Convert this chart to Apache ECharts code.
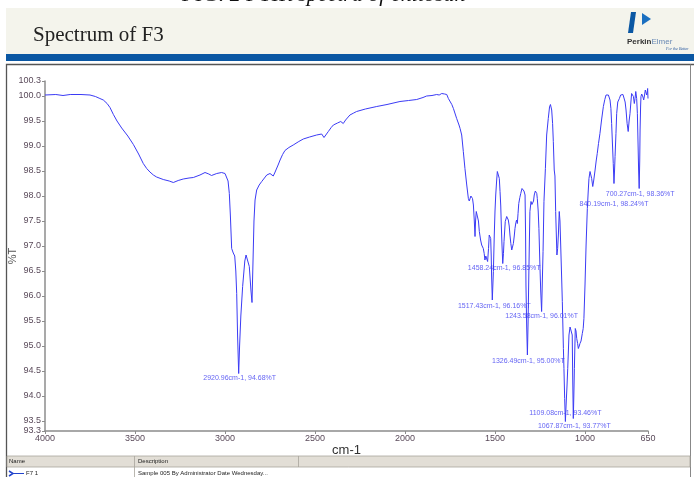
<!DOCTYPE html>
<html>
<head>
<meta charset="utf-8">
<script src="https://cdn.jsdelivr.net/npm/echarts@6/dist/echarts.min.js"></script>
<style>
html,body{margin:0;padding:0;background:#fff;}
#chart{width:694px;height:477px;}
</style>
</head>
<body>
<div id="chart"></div>
<script>
// wavenumber (cm-1) and %T
var wavenumbers = [4000,3940,3900,3860,3800,3750,3720,3695,3676,3655,3639,3620,3600,3574,3540,3509,3480,3454,3435,3417,3398,3380,3343,3310,3287,3260,3232,3200,3176,3139,3111,3090,3075,3065,3046,3019,3000,2991,2983,2976,2970,2963,2954,2946,2940,2935,2930,2924,2919,2912,2902,2890,2883,2874,2865,2856,2850,2845,2839,2833,2824,2810,2796,2768,2750,2741,2732,2724,2717,2705,2694,2680,2667,2645,2621,2590,2565,2530,2491,2463,2456,2450,2440,2426,2410,2398,2375,2357,2350,2343,2330,2306,2285,2269,2220,2157,2100,2028,1980,1935,1900,1880,1850,1824,1810,1796,1780,1768,1759,1754,1740,1731,1722,1713,1700,1694,1685,1676,1667,1657,1648,1643,1639,1634,1630,1625,1620,1615,1611,1608,1604,1598,1592,1587,1580,1574,1565,1560,1556,1551,1546,1541,1536,1532,1528,1524,1521,1519,1515,1512,1509,1504,1500,1496,1491,1487,1480,1476,1472,1468,1465,1461,1457,1453,1450,1443,1435,1426,1421,1417,1412,1407,1402,1398,1393,1389,1384,1380,1376,1372,1368,1362,1357,1350,1346,1339,1333,1330,1328,1324,1320,1316,1313,1309,1306,1300,1295,1291,1286,1282,1276,1272,1268,1265,1260,1256,1250,1246,1241,1237,1233,1228,1220,1213,1204,1197,1192,1189,1185,1180,1176,1171,1167,1163,1156,1152,1148,1143,1139,1135,1130,1126,1120,1117,1113,1109,1104,1100,1096,1089,1083,1078,1074,1071,1068,1065,1062,1059,1054,1050,1046,1041,1037,1032,1028,1022,1015,1010,1006,1000,994,987,982,978,972,967,963,957,952,944,938,932,925,917,908,898,890,883,875,870,865,861,856,852,847,843,839,836,833,828,824,818,809,802,796,789,783,777,772,766,760,755,750,745,741,736,731,726,722,718,713,709,705,702,699,696,694,691,689,685,682,678,674,670,665,661,657,654,652,650];
var transmittance = [100.02,100.03,100.01,100.03,100.03,100.02,99.99,99.95,99.92,99.85,99.77,99.63,99.5,99.36,99.2,99.03,98.84,98.65,98.55,98.48,98.42,98.38,98.33,98.30,98.27,98.31,98.34,98.36,98.37,98.42,98.47,98.44,98.41,98.40,98.45,98.47,98.45,98.42,98.3,98.05,97.6,96.95,96.86,96.80,96.5,96.05,95.2,94.45,95.0,95.6,96.19,96.7,96.82,96.79,96.59,96.12,95.87,96.6,97.5,97.92,98.12,98.22,98.29,98.42,98.45,98.45,98.40,98.46,98.52,98.62,98.72,98.83,98.91,98.97,99.02,99.09,99.14,99.18,99.22,99.24,99.21,99.17,99.22,99.29,99.37,99.42,99.46,99.49,99.48,99.45,99.52,99.62,99.66,99.69,99.74,99.79,99.83,99.89,99.91,99.93,99.97,100.0,100.01,100.03,100.02,100.05,100.04,100.03,99.95,99.93,99.83,99.75,99.72,99.55,99.42,99.35,99.22,98.89,98.55,98.22,97.95,97.9,97.92,98.0,98.02,97.95,97.82,97.5,97.19,97.5,97.69,97.69,97.5,97.29,97.12,97.02,96.95,96.85,96.72,96.8,96.82,96.69,96.95,97.22,97.2,97.15,96.8,96.42,95.92,96.2,96.49,97.22,97.7,98.02,98.3,98.49,98.50,98.35,98.09,97.8,97.42,97.0,96.65,96.85,97.09,97.49,97.59,97.52,97.4,97.22,97.05,96.92,96.95,97.05,97.2,97.35,97.47,97.52,97.45,97.65,97.85,97.97,98.05,98.15,98.19,98.10,98.02,97.2,96.22,95.4,94.82,95.5,96.22,97.1,97.69,97.89,97.83,97.79,97.9,98.02,98.1,98.12,98.05,97.95,97.7,97.35,96.55,96.1,95.69,96.3,96.89,97.89,98.55,99.22,99.55,99.78,99.83,99.83,99.72,99.45,99.09,98.52,98.40,97.69,96.82,96.95,97.22,97.69,97.5,97.02,96.4,95.89,94.95,94.55,93.95,93.49,93.9,94.2,94.55,95.22,95.38,95.42,95.35,95.22,94.3,93.55,94.0,94.55,95.35,95.3,95.15,95.05,94.95,95.0,95.05,95.1,95.25,95.35,95.55,96.22,97.02,97.75,98.1,98.35,98.49,98.45,98.35,98.19,98.3,98.52,98.7,98.85,99.05,99.25,99.52,99.79,99.93,100.02,100.03,100.02,99.98,99.92,99.75,99.45,99.0,98.65,98.25,98.5,98.79,99.25,99.65,99.88,99.95,100.02,100.04,100.03,99.99,99.88,99.72,99.45,99.29,99.5,99.65,99.88,100.05,100.04,99.99,99.85,99.95,100.09,99.95,99.65,99.0,98.5,98.15,98.7,99.32,99.8,99.99,100.04,100.02,99.98,99.92,100.0,100.12,100.1,100.02,100.08,100.15,99.95];

// annotated peaks (position of tip in the drawing, text as printed)
var peakWn = [2924,1457,1515,1241,1320,1109,1065,839,699];
var peakT  = [94.45,96.65,95.92,95.69,94.82,93.49,93.55,98.25,98.15];
var peakText = ['2920.96cm-1, 94.68%T','1458.24cm-1, 96.85%T','1517.43cm-1, 96.16%T','1243.58cm-1, 96.01%T','1326.49cm-1, 95.00%T','1109.08cm-1, 93.46%T','1067.87cm-1, 93.77%T','840.19cm-1, 98.24%T','700.27cm-1, 98.36%T'];
var peakOffsets = [[1,5],[1.5,5],[2,6],[0,4.5],[1,6],[0,-8.5],[1,7.5],[0,21],[1,6]];

var xTicks = [4000,3500,3000,2500,2000,1500,1000,650];
var yTicks = [93.3,93.5,94.0,94.5,95.0,95.5,96.0,96.5,97.0,97.5,98.0,98.5,99.0,99.5,100.0,100.3];

var lineData = wavenumbers.map(function(w,i){return [w, transmittance[i]];});
var peakData = peakWn.map(function(w,i){
  return {value:[w, peakT[i]], label:{offset:peakOffsets[i], formatter:peakText[i]}};
});

var chart = echarts.init(document.getElementById('chart'), null, {renderer:'canvas'});
var axisColor = '#8c8c8c';
var labelColor = '#5a4a5a';
chart.setOption({
  backgroundColor:'#ffffff',
  animation:false,
  grid:{left:45, right:46, top:81, bottom:46, containLabel:false, outerBoundsMode:'none'},
  xAxis:{
    type:'value', min:650, max:4000, inverse:true,
    name:'cm-1', nameLocation:'middle', nameGap:13, nameMoveOverlap:false,
    nameTextStyle:{fontFamily:'Liberation Sans Narrow, Liberation Sans, sans-serif', fontSize:13, color:'#333'},
    axisLine:{show:true, onZero:false, lineStyle:{color:axisColor, width:1.5}},
    axisTick:{show:true, length:3, customValues:xTicks, lineStyle:{color:axisColor}},
    axisLabel:{customValues:xTicks, color:labelColor, fontSize:9, margin:3, fontFamily:'Liberation Sans, sans-serif',
      formatter:function(v){return String(Math.round(v));}},
    splitLine:{show:false}
  },
  yAxis:{
    type:'value', min:93.3, max:100.3,
    name:'%T', nameLocation:'middle', nameGap:27, nameRotate:90, nameMoveOverlap:false,
    nameTextStyle:{fontFamily:'Liberation Sans, sans-serif', fontSize:11, color:'#555'},
    axisLine:{show:true, onZero:false, lineStyle:{color:axisColor, width:1.5}},
    axisTick:{show:true, length:3, customValues:yTicks, lineStyle:{color:axisColor}},
    axisLabel:{customValues:yTicks, color:labelColor, fontSize:9, margin:4, hideOverlap:false,
      fontFamily:'Liberation Sans, sans-serif',
      formatter:function(v){return (+v).toFixed(1);}},
    splitLine:{show:false}
  },
  series:[
    {type:'line', data:lineData, showSymbol:false, symbol:'none',
     lineStyle:{color:'#3b3bf5', width:1}, z:3},
    {type:'scatter', data:peakData, symbolSize:0, z:4,
     label:{show:true, position:'inside', color:'#3a3af0', fontSize:7,
       fontFamily:'Liberation Sans, sans-serif'}}
  ],
  graphic:[
    // caption cropped at top
    {type:'text', x:182, y:-16, style:{text:'FIG. 2 FTIR spectra of chitosan', font:'italic 22px "Liberation Serif"', fill:'#111'}, silent:true},
    // header band
    {type:'rect', shape:{x:6, y:8, width:688, height:46}, style:{fill:'#f4f4ec'}, silent:true},
    {type:'rect', shape:{x:6, y:54, width:688, height:7}, style:{fill:'#0a57a3'}, silent:true},
    {type:'text', x:33, y:35, style:{text:'Spectrum of F3', font:'21px "Liberation Serif"', fill:'#222', verticalAlign:'middle'}, silent:true},
    // logo
    {type:'polygon', shape:{points:[[631,12],[636,12],[633,33],[628,33]]}, style:{fill:'#0a57a3'}, silent:true},
    {type:'polygon', shape:{points:[[642,13],[651,19],[642,25]]}, style:{fill:'#1a6fc0'}, silent:true},
    {type:'text', x:627, y:42, style:{text:'{a|Perkin}{b|Elmer}', verticalAlign:'middle',
      rich:{a:{font:'bold 8px "Liberation Sans"', fill:'#333', color:'#333'}, b:{font:'8px "Liberation Sans"', fill:'#6a8ab5', color:'#6a8ab5'}}}, silent:true},
    {type:'text', x:666, y:48.5, style:{text:'For the Better', font:'italic 4px "Liberation Serif"', fill:'#2a5aa0', verticalAlign:'middle'}, silent:true},
    // outer frame
    {type:'polyline', shape:{points:[[6.5,477],[6.5,64.5],[694,64.5]]}, style:{stroke:'#555', lineWidth:1.3, fill:null}, silent:true},
    {type:'line', shape:{x1:690.5, y1:64.5, x2:690.5, y2:477}, style:{stroke:'#888', lineWidth:1}, silent:true},
    // bottom table
    {type:'rect', shape:{x:7, y:456, width:683, height:11}, style:{fill:'#e2ded6', stroke:'#a8a49c', lineWidth:0.8}, silent:true},
    {type:'line', shape:{x1:134.5, y1:456, x2:134.5, y2:477}, style:{stroke:'#a8a49c', lineWidth:0.8}, silent:true},
    {type:'line', shape:{x1:298.5, y1:456, x2:298.5, y2:467}, style:{stroke:'#a8a49c', lineWidth:0.8}, silent:true},
    {type:'text', x:9, y:461.5, style:{text:'Name', font:'6px "Liberation Sans"', fill:'#222', verticalAlign:'middle'}, silent:true},
    {type:'text', x:138, y:461.5, style:{text:'Description', font:'6px "Liberation Sans"', fill:'#222', verticalAlign:'middle'}, silent:true},
    {type:'polyline', shape:{points:[[9,471],[13,473.5],[9,476]]}, style:{stroke:'#2244cc', lineWidth:1.5, fill:null}, silent:true},
    {type:'line', shape:{x1:12, y1:473.5, x2:24, y2:473.5}, style:{stroke:'#2244cc', lineWidth:1}, silent:true},
    {type:'text', x:26, y:473.5, style:{text:'F7 1', font:'6px "Liberation Sans"', fill:'#222', verticalAlign:'middle'}, silent:true},
    {type:'text', x:138, y:473.5, style:{text:'Sample 005 By Administrator Date Wednesday...', font:'6px "Liberation Sans"', fill:'#222', verticalAlign:'middle'}, silent:true}
  ]
});
</script>
</body>
</html>
